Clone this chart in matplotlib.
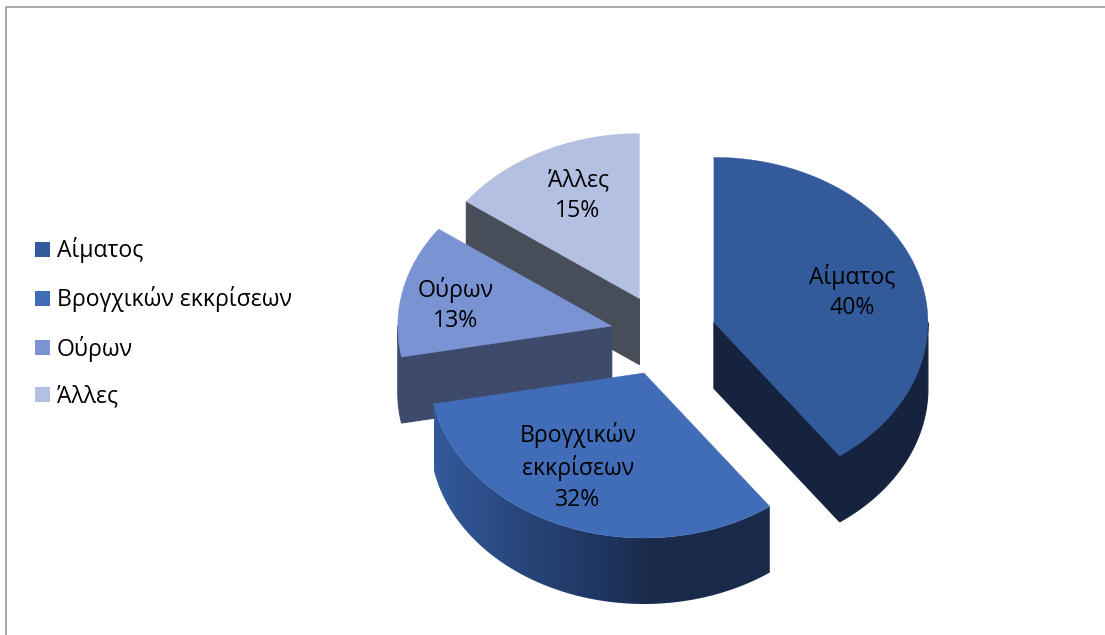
import numpy as np
import matplotlib
matplotlib.use('Agg')
import matplotlib.pyplot as plt
from matplotlib.colors import LinearSegmentedColormap
from matplotlib.patches import Patch, Polygon

plt.rcParams['font.family'] = ['Open Sans', 'DejaVu Sans']

categories = ['Αίματος', 'Βρογχικών εκκρίσεων', 'Ούρων', 'Άλλες']
values = [40, 32, 13, 15]
label_lines = ['Αίματος', 'Βρογχικών\nεκκρίσεων', 'Ούρων', 'Άλλες']

top_colors = ['#335a9b', '#416cb8', '#7a93d2', '#b3c0e2']
cut_colors = ['#15233f', '#1a2a4b', '#3d4a6c', '#484d5a']
label_xy = [(852, 292), (578, 467), (456, 305), (578, 196)]

# pie geometry in pixels
cx, cy = 663.5, 335
rx, ry = 214, 165
explode = 53
depth = 66


def rim(x0, y0, a0, a1, n=120):
    a = np.radians(np.linspace(a0, a1, n))
    return np.column_stack([x0 + rx * np.sin(a), y0 - ry * np.cos(a)])


def drop(points):
    return points + np.array([0, depth])


fig = plt.figure(figsize=(11.05, 6.35), dpi=100)
ax = fig.add_axes([0, 0, 1, 1])
ax.set_xlim(0, 1105)
ax.set_ylim(635, 0)
ax.axis('off')

# frame around the chart area
ax.plot([5.5, 5.5, 1105], [635, 6.5, 6.5], color='#a3a3a3', lw=1.3, zorder=1)

edges = np.cumsum([0] + values) / sum(values) * 360
slices = []
for i in range(len(values)):
    mid = np.radians((edges[i] + edges[i + 1]) / 2)
    slices.append((cx + explode * np.sin(mid), cy - explode * ry / rx * np.cos(mid), edges[i], edges[i + 1]))

# back slices first, the lower one last
for z, i in zip([2, 3, 4, 5], [3, 2, 0, 1]):
    x0, y0, a0, a1 = slices[i]
    apex = np.array([[x0, y0]])
    outer = rim(x0, y0, a0, a1)
    order = z * 10

    # flat faces, only those turned to the viewer
    shown = []
    if a0 > 180:
        shown.append(a0)
    if 90 < a1 < 180:
        shown.append(a1)
    for a in shown:
        edge = np.vstack([apex, rim(x0, y0, a, a, 2)[:1]])
        face = np.vstack([edge, drop(edge)[::-1]])
        ax.add_patch(Polygon(face, closed=True, fc=cut_colors[i], ec=cut_colors[i], lw=0.8, zorder=order))

    # outer wall, only the part turned to the front
    lo, hi = max(a0, 90), min(a1, 270)
    if lo < hi:
        wall = rim(x0, y0, lo, hi)
        shape = np.vstack([wall, drop(wall)[::-1]])
        patch = Polygon(shape, closed=True, fc=cut_colors[i], ec=cut_colors[i], lw=0.8, zorder=order + 1)
        ax.add_patch(patch)
        if i == 1:
            patch.set_facecolor('none')
            patch.set_edgecolor('none')
            ramp = LinearSegmentedColormap.from_list(
                'wall', [(0, '#335a9c'), (0.28, '#274478'), (0.5, '#1f3562'), (0.65, '#1a2a4b'), (1, '#1a2a4b')])
            im = ax.imshow(np.linspace(0, 1, 256).reshape(1, -1), cmap=ramp, aspect='auto',
                           extent=[shape[:, 0].min(), shape[:, 0].max(), shape[:, 1].max(), shape[:, 1].min()],
                           zorder=order + 1)
            im.set_clip_path(patch)

    top = np.vstack([apex, outer])
    ax.add_patch(Polygon(top, closed=True, fc=top_colors[i], ec=top_colors[i], lw=0.3, zorder=order + 2))

ax.set_xlim(0, 1105)
ax.set_ylim(635, 0)

for name, v, (x, y) in zip(label_lines, values, label_xy):
    ax.text(x, y, f'{name}\n{v}%', ha='center', va='center', fontsize=16.6,
            linespacing=1.38, color='black', zorder=100)

handles = [Patch(fc=c, ec='none') for c in top_colors]
ax.legend(handles, categories, loc='center left', bbox_to_anchor=(35 / 1105, 1 - 323 / 635),
          frameon=False, fontsize=16.6, handlelength=0.65, handleheight=0.65,
          handletextpad=0.3, labelspacing=1.0, borderpad=0, borderaxespad=0, labelcolor='black')

fig.savefig('out.png', dpi=100)
